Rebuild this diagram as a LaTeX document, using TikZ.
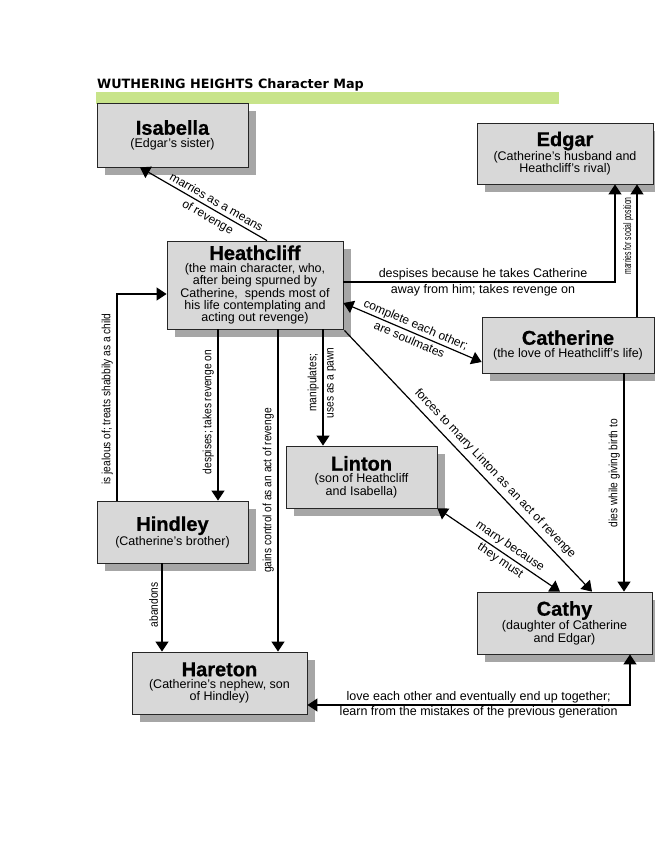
\documentclass[tikz,border=0pt]{standalone}
\usepackage{fontspec}
\setmainfont{Liberation Sans}
\newfontfamily\headfamily{DejaVu Sans}
\newfontfamily\heavyfont[FakeBold=0.7]{Liberation Sans Bold}
\newfontfamily\narrowfont[FakeStretch=0.85]{Liberation Sans}
\newfontfamily\narrowerfont[FakeStretch=0.62]{Liberation Sans}
\usetikzlibrary{arrows.meta,shadows,calc}
\definecolor{boxfill}{RGB}{216,216,216}
\definecolor{shadowgray}{RGB}{166,166,166}
\definecolor{barcolor}{RGB}{200,228,138}
\newcommand\charname[1]{{\heavyfont\fontsize{20}{20}\selectfont #1}}
\tikzset{
  charbox/.style={draw=black!85, line width=0.8pt, fill=boxfill, align=center,
    inner sep=0pt, font=\fontsize{12.5}{12.4}\selectfont,
    drop shadow={shadow xshift=8pt, shadow yshift=-8pt, fill=shadowgray, opacity=1}},
  arr/.style={draw=black, line width=1.2pt, -{Triangle[length=10pt,width=13pt]}},
  darr/.style={draw=black, line width=1.2pt, {Triangle[length=10pt,width=13pt]}-{Triangle[length=10pt,width=13pt]}},
  hlabel/.style={font=\fontsize{12.5}{12.5}\selectfont, inner sep=1pt},
  dlabel/.style={font=\fontsize{12}{12}\selectfont, sloped, inner sep=2pt},
  vlabel/.style={font=\narrowfont\fontsize{12}{12}\selectfont, rotate=90, anchor=south, inner sep=3.5pt},
  vlabelR/.style={font=\narrowfont\fontsize{12}{12}\selectfont, rotate=90, anchor=north, inner sep=3.5pt},
}
\begin{document}
\begin{tikzpicture}[x=1pt,y=-1pt]
\useasboundingbox[fill=white] (0,0) rectangle (655,848);
% title and bar
\node[anchor=base west, inner sep=0pt, font=\headfamily\fontsize{12.8}{13}\selectfont\bfseries] (title) at (97,89) {WUTHERING HEIGHTS Character Map};
\fill[barcolor] (96,92) rectangle (559,104);
% boxes
\node[charbox, minimum width=151pt, minimum height=64pt] (isa) at (172.5,135) {\charname{Isabella}\\(Edgar's sister)};
\node[charbox, minimum width=176pt, minimum height=61pt] (edgar) at (565,153.5) {\charname{Edgar}\\(Catherine's husband and\\Heathcliff's rival)};
\node[charbox, minimum width=176pt, minimum height=88pt] (heath) at (255,285) {\charname{Heathcliff}\\(the main character, who,\\after being spurned by\\Catherine,\ \ spends most of\\his life contemplating and\\acting out revenge)};
\node[charbox, minimum width=172pt, minimum height=56pt] (cath) at (568,345) {\charname{Catherine}\\(the love of Heathcliff's life)};
\node[charbox, minimum width=151pt, minimum height=62pt] (linton) at (361.5,477) {\charname{Linton}\\(son of Heathcliff\\and Isabella)};
\node[charbox, minimum width=151pt, minimum height=62pt] (hind) at (172.5,532) {\charname{Hindley}\\(Catherine's brother)};
\node[charbox, minimum width=175pt, minimum height=62pt] (hare) at (219.5,683) {\charname{Hareton}\\(Catherine's nephew, son\\of Hindley)};
\node[charbox, minimum width=175pt, minimum height=62pt] (cathy) at (564.5,623) {\charname{Cathy}\\(daughter of Catherine\\and Edgar)};
% Heathcliff -> Isabella
\coordinate (hiA) at ([xshift=12pt]heath.north);
\coordinate (hiB) at ([xshift=-32.5pt]isa.south);
\draw[arr] (hiA) -- node[dlabel, above, pos=0.43, inner sep=3.5pt] (l1a) {marries as a means} node[dlabel, below, pos=0.43, inner sep=3.5pt] (l1b) {of revenge} (hiB);
% Heathcliff -> Edgar
\coordinate (heA) at ([yshift=3pt]heath.east);
\coordinate (heB) at ([xshift=50pt]edgar.south);
\draw[arr] (heA) -| node[hlabel, above, pos=0.257] (l2a) {despises because he takes Catherine} node[hlabel, below, pos=0.257, inner sep=2pt] (l2b) {away from him; takes revenge on} (heB);
% Catherine -> Edgar
\coordinate (ceA) at ([xshift=69pt]cath.north);
\draw[arr] (ceA) -- node[pos=0.61, vlabel, font=\narrowerfont\fontsize{11}{11}\selectfont, inner sep=3pt] (l3) {marries for social position} (ceA |- edgar.south);
% Heathcliff <-> Catherine
\coordinate (hcA) at ([yshift=-18pt]heath.east);
\coordinate (hcB) at ([yshift=-17pt]cath.west);
\draw[darr] (hcA) -- node[dlabel, above, pos=0.5, inner sep=1.5pt] (l4a) {complete each other;} node[dlabel, below, pos=0.5, inner sep=2.5pt] (l4b) {are soulmates} (hcB);
% Heathcliff -> Linton
\coordinate (hlA) at ([xshift=68pt]heath.south);
\draw[arr] (hlA) -- node[pos=0.46, vlabel] (l5a) {manipulates;} node[pos=0.46, vlabelR] (l5b) {uses as a pawn} (hlA |- linton.north);
% Heathcliff -> Hindley
\coordinate (hhA) at ([xshift=-37pt]heath.south);
\draw[arr] (hhA) -- node[pos=0.483, vlabel] (l6) {despises; takes revenge on} (hhA |- hind.north);
% Hindley -> Heathcliff
\coordinate (jhA) at ([xshift=-55.5pt]hind.north);
\coordinate (jhB) at ([yshift=-9pt]heath.west);
\draw[arr] (jhA) |- node[pos=0.246, vlabel] (l7) {is jealous of; treats shabbily as a child} (jhB);
% Heathcliff -> Hareton
\coordinate (hrA) at ([xshift=23pt]heath.south);
\draw[arr] (hrA) -- node[pos=0.5, vlabel] (l8) {gains control of as an act of revenge} (hrA |- hare.north);
% Hindley -> Hareton
\coordinate (drA) at ([xshift=-10.5pt]hind.south);
\draw[arr] (drA) -- node[pos=0.47, vlabel] (l9) {abandons} (drA |- hare.north);
% Heathcliff -> Cathy
\coordinate (hyA) at ([xshift=1pt,yshift=-1pt]heath.south east);
\coordinate (hyB) at ([xshift=27.5pt]cathy.north);
\draw[arr] (hyA) -- node[dlabel, above, pos=0.577, inner sep=4.5pt] (l10) {forces to marry Linton as an act of revenge} (hyB);
% Linton <-> Cathy
\coordinate (lcB) at ([xshift=-4.5pt]cathy.north);
\draw[darr] (linton.south east) -- node[dlabel, above, pos=0.55, inner sep=3pt] (l11a) {marry because} node[dlabel, below, pos=0.55] (l11b) {they must} (lcB);
% Catherine -> Cathy
\coordinate (ccA) at ([xshift=56pt]cath.south);
\draw[arr] (ccA) -- node[pos=0.457, vlabel] (l12) {dies while giving birth to} (ccA |- cathy.north);
% Cathy <-> Hareton
\coordinate (yhA) at ([xshift=65.5pt]cathy.south);
\coordinate (yhB) at ([yshift=-22pt]hare.east);
\draw[darr] (yhA) |- node[hlabel, above, pos=0.7345] (l13a) {love each other and eventually end up together;} node[hlabel, below, pos=0.7345] (l13b) {learn from the mistakes of the previous generation} (yhB);
\end{tikzpicture}
\end{document}
